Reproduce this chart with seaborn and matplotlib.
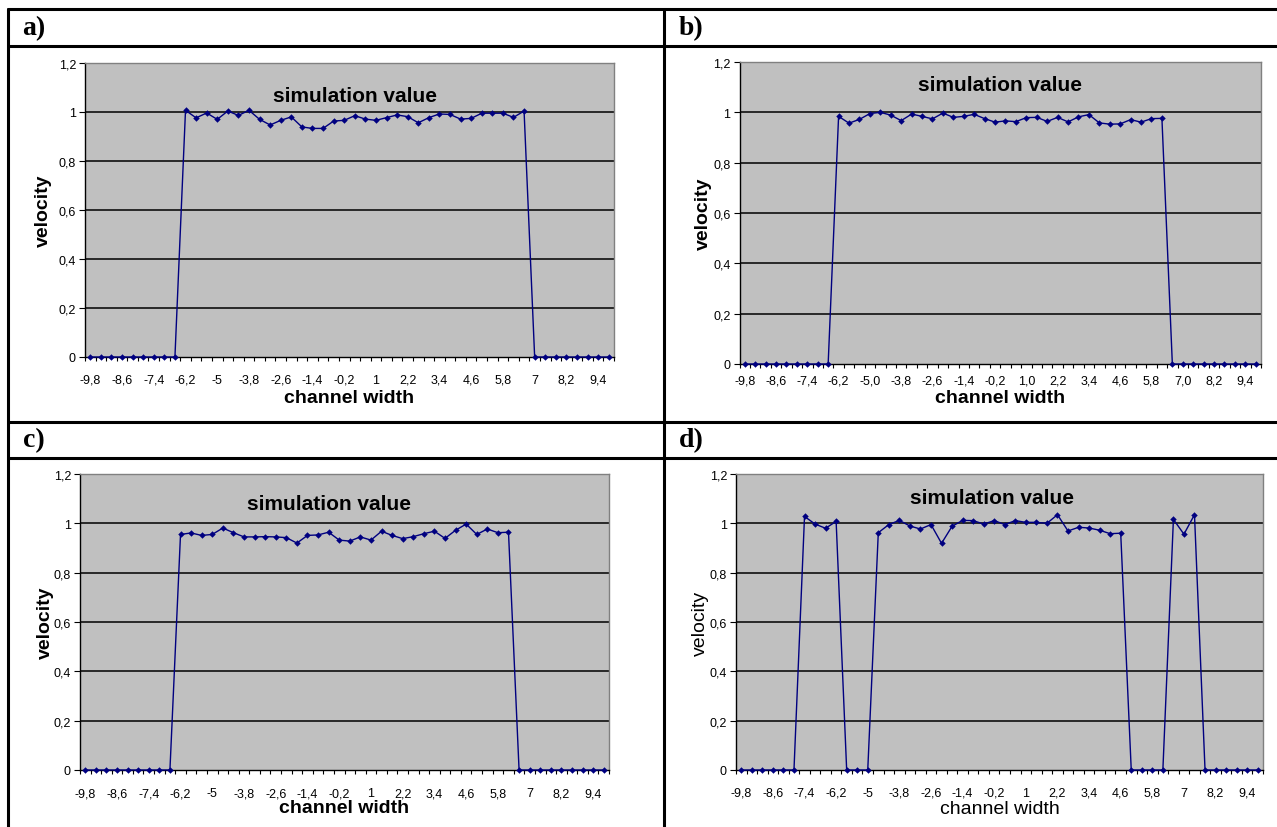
import matplotlib
matplotlib.use("Agg")
import matplotlib.pyplot as plt
from matplotlib.lines import Line2D
import seaborn as sns

# channel width categories (x axis)
channel = [-9.8, -9.4, -9.0, -8.6, -8.2, -7.8, -7.4, -7.0, -6.6, -6.2,
           -5.8, -5.4, -5.0, -4.6, -4.2, -3.8, -3.4, -3.0, -2.6, -2.2,
           -1.8, -1.4, -1.0, -0.6, -0.2, 0.2, 0.6, 1.0, 1.4, 1.8,
           2.2, 2.6, 3.0, 3.4, 3.8, 4.2, 4.6, 5.0, 5.4, 5.8,
           6.2, 6.6, 7.0, 7.4, 7.8, 8.2, 8.6, 9.0, 9.4, 9.8]

vel_a = [0, 0, 0, 0, 0, 0, 0, 0, 0, 1.007,
         0.976, 0.996, 0.970, 1.004, 0.986, 1.007, 0.970, 0.947, 0.966, 0.980,
         0.939, 0.933, 0.933, 0.963, 0.966, 0.985, 0.971, 0.966, 0.977, 0.988,
         0.981, 0.956, 0.977, 0.992, 0.990, 0.971, 0.974, 0.995, 0.995, 0.995,
         0.978, 1.004, 0, 0, 0, 0, 0, 0, 0, 0]

vel_b = [0, 0, 0, 0, 0, 0, 0, 0, 0, 0.984,
         0.957, 0.972, 0.995, 1.000, 0.989, 0.967, 0.993, 0.984, 0.974, 0.997,
         0.980, 0.984, 0.992, 0.975, 0.961, 0.966, 0.963, 0.979, 0.980, 0.964,
         0.980, 0.962, 0.982, 0.991, 0.958, 0.953, 0.954, 0.971, 0.961, 0.975,
         0.976, 0, 0, 0, 0, 0, 0, 0, 0, 0]

vel_c = [0, 0, 0, 0, 0, 0, 0, 0, 0, 0.955,
         0.961, 0.951, 0.955, 0.981, 0.962, 0.945, 0.945, 0.946, 0.945, 0.942,
         0.920, 0.951, 0.953, 0.964, 0.932, 0.928, 0.945, 0.932, 0.968, 0.951,
         0.938, 0.946, 0.958, 0.968, 0.939, 0.972, 0.997, 0.955, 0.977, 0.962,
         0.964, 0, 0, 0, 0, 0, 0, 0, 0, 0]

vel_d = [0, 0, 0, 0, 0, 0, 1.028, 0.997, 0.980, 1.008,
         0, 0, 0, 0.962, 0.995, 1.012, 0.989, 0.977, 0.995, 0.919,
         0.988, 1.012, 1.011, 0.997, 1.011, 0.995, 1.011, 1.004, 1.004, 1.000,
         1.035, 0.969, 0.984, 0.981, 0.972, 0.958, 0.960, 0, 0, 0,
         0, 1.016, 0.956, 1.035, 0, 0, 0, 0, 0, 0]

xlabels_int = ['-9,8', '-8,6', '-7,4', '-6,2', '-5', '-3,8', '-2,6', '-1,4', '-0,2',
               '1', '2,2', '3,4', '4,6', '5,8', '7', '8,2', '9,4']
xlabels_dec = ['-9,8', '-8,6', '-7,4', '-6,2', '-5,0', '-3,8', '-2,6', '-1,4', '-0,2',
               '1,0', '2,2', '3,4', '4,6', '5,8', '7,0', '8,2', '9,4']
yticks = [0, 0.2, 0.4, 0.6, 0.8, 1.0, 1.2]
ylabels = ['0', '0,2', '0,4', '0,6', '0,8', '1', '1,2']

sns.set_theme(style="white")
plt.rcParams['font.family'] = ['Liberation Sans', 'DejaVu Sans']
plt.rcParams['text.color'] = 'black'
plt.rcParams['axes.labelcolor'] = 'black'
plt.rcParams['xtick.color'] = 'black'
plt.rcParams['ytick.color'] = 'black'

W, H = 1277, 828
fig = plt.figure(figsize=(W / 100, H / 100), dpi=100)


def rect(left, right, top, bottom):
    return [left / W, 1 - bottom / H, (right - left) / W, (bottom - top) / H]


def draw_panel(ax, vel, xlabels, weight, title_xy, ylab_x, xlab_y, xpad):
    ax.set_facecolor('#C0C0C0')
    for v in yticks[1:-1]:
        ax.axhline(v, color='black', lw=1.1, zorder=1)
    sns.lineplot(x=channel, y=vel, ax=ax, color='#000080', lw=1,
                 marker='D', markersize=3.3, markeredgewidth=0,
                 clip_on=False, zorder=3)
    ax.set_xlim(-10, 10)
    ax.set_ylim(0, 1.2)
    ax.set_xticks(channel[::3])
    ax.set_xticklabels(xlabels)
    ax.set_xticks([-10 + 0.4 * i for i in range(51)], minor=True)
    ax.set_yticks(yticks)
    ax.set_yticklabels(ylabels)
    ax.tick_params(axis='x', which='major', length=0, pad=xpad, labelsize=9)
    ax.tick_params(axis='x', which='minor', length=3, width=0.8, direction='out',
                   bottom=True)
    ax.tick_params(axis='y', length=4, width=0.8, direction='out', pad=2.5,
                   labelsize=9, left=True)
    for lab in ax.get_xticklabels():
        lab.set_verticalalignment('baseline')
    for s in ['left', 'bottom']:
        ax.spines[s].set_color('black')
        ax.spines[s].set_linewidth(1)
    for s in ['top', 'right']:
        ax.spines[s].set_color('#808080')
        ax.spines[s].set_linewidth(1)
    ax.text(title_xy[0], title_xy[1], 'simulation value', transform=ax.transAxes,
            ha='center', va='center', fontsize=15, fontweight='bold')
    ax.set_ylabel('velocity', fontsize=14, fontweight=weight, va='center')
    ax.yaxis.set_label_coords(ylab_x, 0.5)
    ax.set_xlabel('channel width', fontsize=14, fontweight=weight, va='center')
    ax.xaxis.set_label_coords(0.5, xlab_y)


ax_a = fig.add_axes(rect(85, 614, 64, 358))
draw_panel(ax_a, vel_a, xlabels_int, 'bold', (0.51, 0.888), -0.078, -0.138, 18.7)

ax_b = fig.add_axes(rect(739.5, 1261, 63, 365))
draw_panel(ax_b, vel_b, xlabels_dec, 'bold', (0.5, 0.924), -0.070, -0.11, 14)

ax_c = fig.add_axes(rect(80, 609, 475, 771))
draw_panel(ax_c, vel_c, xlabels_int, 'bold', (0.471, 0.899), -0.066, -0.128, 19)

ax_d = fig.add_axes(rect(736, 1263, 475, 771))
draw_panel(ax_d, vel_d, xlabels_int, 'normal', (0.486, 0.922), -0.068, -0.13, 18.4)

# table frame
lines = [((8, 1277), (10, 10)), ((8, 1277), (47, 47)),
         ((8, 1277), (423, 423)), ((8, 1277), (459, 459)),
         ((8, 8), (10, 828)), ((664, 664), (10, 828))]
for xs, ys in lines:
    fig.add_artist(Line2D([x / W for x in xs], [1 - y / H for y in ys],
                          transform=fig.transFigure, color='black', lw=2.2))

for lab, x, y in [('a)', 22, 29), ('b)', 679, 29), ('c)', 23, 441), ('d)', 679, 441)]:
    fig.text(x / W, 1 - y / H, lab, ha='left', va='center', fontsize=20,
             fontweight='bold', family=['Liberation Serif', 'DejaVu Serif'])

fig.savefig('out.png', dpi=100)
